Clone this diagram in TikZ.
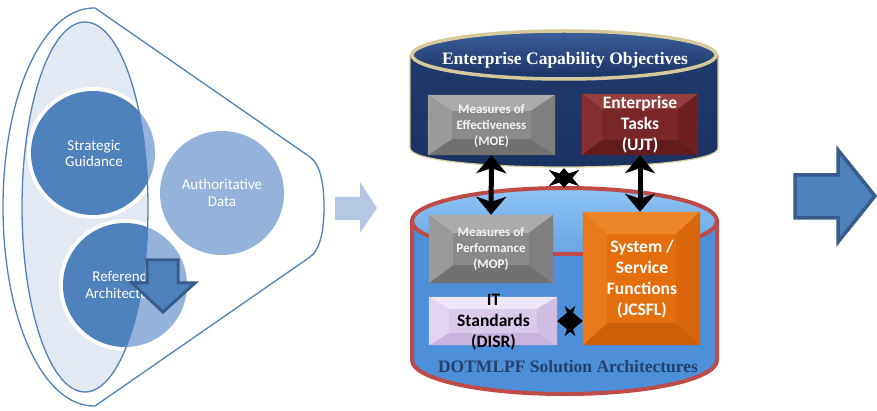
\documentclass[tikz,border=0pt]{standalone}
\usepackage{fontspec}
\setmainfont{Carlito}
\newfontfamily\titlefont{Liberation Serif}
\usetikzlibrary{arrows.meta}
\definecolor{cblue}{HTML}{4F81BD}
\definecolor{cblueD}{HTML}{385D8A}
\definecolor{clight}{HTML}{94B3DB}
\definecolor{cellfill}{HTML}{E3E9F2}
\definecolor{carrowL}{HTML}{B4C7E3}
\definecolor{navy}{HTML}{1F3B6B}
\definecolor{navyL}{HTML}{3A5F9A}
\definecolor{navyD}{HTML}{1A3262}
\definecolor{tanrim}{HTML}{D6CA9C}
\definecolor{rimred}{HTML}{BE4B48}
\definecolor{cylblue}{HTML}{4E8FDA}
\definecolor{cyltop}{HTML}{8EC4F3}
\definecolor{dotblue}{HTML}{24406E}
\definecolor{lgray}{HTML}{F4F4F4}
\definecolor{gbase}{HTML}{8A8A8A}
\definecolor{gtop}{HTML}{ABABAB}
\definecolor{gleft}{HTML}{9A9A9A}
\definecolor{gright}{HTML}{7F7F7F}
\definecolor{gbot}{HTML}{717171}
\definecolor{rbase}{HTML}{7A2626}
\definecolor{rtop}{HTML}{943E3E}
\definecolor{rleft}{HTML}{853030}
\definecolor{rright}{HTML}{6C2020}
\definecolor{rbot}{HTML}{621C1C}
\definecolor{lbase}{HTML}{DACAEC}
\definecolor{ltop}{HTML}{EEE5F7}
\definecolor{lleft}{HTML}{E3D5F1}
\definecolor{lright}{HTML}{D0BDE4}
\definecolor{lbot}{HTML}{C8B2DF}
\definecolor{obase}{HTML}{E46E0C}
\definecolor{otop}{HTML}{EE8527}
\definecolor{oleft}{HTML}{E9781A}
\definecolor{oright}{HTML}{D9660A}
\definecolor{obot}{HTML}{CD5F09}
\newcommand\mybevel[7]{%
 \fill[#4] (#1.north west) -- (#1.north east) -- ([shift={(-#2,#3)}]#1.north east) -- ([shift={(#2,#3)}]#1.north west) -- cycle;
 \fill[#7] (#1.south west) -- (#1.south east) -- ([shift={(-#2,-#3)}]#1.south east) -- ([shift={(#2,-#3)}]#1.south west) -- cycle;
 \fill[#5] (#1.north west) -- ([shift={(#2,#3)}]#1.north west) -- ([shift={(#2,-#3)}]#1.south west) -- (#1.south west) -- cycle;
 \fill[#6] (#1.north east) -- ([shift={(-#2,#3)}]#1.north east) -- ([shift={(-#2,-#3)}]#1.south east) -- (#1.south east) -- cycle;
}
\tikzset{
 lbl/.style={font=\fontsize{15}{16.5}\selectfont, text=white, align=center, inner sep=0pt},
 boxbase/.style={rectangle, inner sep=0pt, draw=none},
 moetxt/.style={font=\bfseries\fontsize{13}{16}\selectfont, text=lgray, align=center, inner sep=0pt},
 bigtxt/.style={font=\bfseries\fontsize{17.5}{21}\selectfont, align=center, inner sep=0pt},
 ttl/.style={font=\titlefont\bfseries\fontsize{17.5}{20}\selectfont, inner sep=0pt},
 dbl/.style={{Stealth[length=18pt,width=30pt,inset=5pt]}-{Stealth[length=18pt,width=30pt,inset=5pt]}, line width=5pt, black},
 bigarrow/.style={fill=cblue, draw=cblueD, line width=3pt, line join=miter},
}
\begin{document}
\begin{tikzpicture}[x=1pt,y=-1pt]
\useasboundingbox (0,0) rectangle (877,411);
\fill[white] (0,0) rectangle (877,411);

% ---------- left funnel ----------
\draw[fill=white, draw=cblue, line width=1.3pt] (95,8) -- (310,157) .. controls (321,165) and (324,186) .. (324,207) .. controls (324,228) and (321,249) .. (310,257) -- (95,406) .. controls (42,407) and (3,317) .. (3,207) .. controls (3,97) and (42,7) .. cycle;
\fill[cellfill] (85,207) ellipse [x radius=63, y radius=185];
\fill[clight] (93,153) circle [radius=62];
\fill[clight] (222,193) circle [radius=62];
\fill[clight] (125,285) circle [radius=62];
\begin{scope}
 \clip (85,207) ellipse [x radius=63, y radius=185];
 \fill[white] (93,153) circle [radius=66];
 \fill[cblue] (93,153) circle [radius=62];
 \fill[white] (125,285) circle [radius=66];
 \fill[cblue] (125,285) circle [radius=62];
\end{scope}
\draw[cblue, line width=1.3pt] (85,207) ellipse [x radius=63, y radius=185];
\node[lbl] (sg) at (94,153.5) {Strategic\\Guidance};
\node[lbl] (ad) at (222,193) {Authoritative\\Data};
\node[lbl] (ra) at (123,285) {Reference\\Architecture};
\draw[bigarrow] (147,260) -- (178,260) -- (178,283) -- (195,283) -- (163,312) -- (132,283) -- (147,283) -- cycle;

% ---------- light arrow ----------
\fill[carrowL] (335,197) -- (360,197) -- (360,182) -- (377,208) -- (360,233) -- (360,220) -- (335,220) -- cycle;

% ---------- top cylinder ----------
\path[draw=tanrim, line width=1.2pt, top color=navy, bottom color=navyD] (410,55) -- (410,148) .. controls (410,160) and (480,167) .. (564,167) .. controls (648,167) and (718,160) .. (718,148) -- (718,55) -- cycle;
\path[draw=tanrim, line width=3.5pt, top color=navyL, bottom color=navyD] (564,55) ellipse [x radius=152, y radius=24];
\node[ttl, text=white] (eco) at (565,60) {Enterprise Capability Objectives};

% ---------- bottom cylinder ----------
\path[draw=rimred, line width=4pt, fill=cylblue] (412,221) -- (412,360) .. controls (412,379) and (480,394) .. (564.5,394) .. controls (649,394) and (717,379) .. (717,360) -- (717,221) -- cycle;
\path[draw=rimred, line width=4pt, top color=cyltop, bottom color=cylblue!60!cyltop] (564.5,221) ellipse [x radius=152.5, y radius=33];
\node[ttl, text=dotblue] (dot) at (568,367) {DOTMLPF Solution Architectures};

% ---------- boxes ----------
\node[boxbase, fill=gbase, minimum width=127pt, minimum height=60pt] (moe) at (491.5,125) {};
\mybevel{moe}{24}{16}{gtop}{gleft}{gright}{gbot}
\node[moetxt] (moe-t) at (491.5,126) {Measures of\\Effectiveness\\(MOE)};

\node[boxbase, fill=rbase, minimum width=116pt, minimum height=61pt] (ujt) at (640,124.5) {};
\mybevel{ujt}{20}{15}{rtop}{rleft}{rright}{rbot}
\node[bigtxt, text=white] (ujt-t) at (640,125) {Enterprise\\Tasks\\(UJT)};

\node[boxbase, fill=gbase, minimum width=124pt, minimum height=68pt] (mop) at (491,249) {};
\mybevel{mop}{24}{18}{gtop}{gleft}{gright}{gbot}
\node[moetxt] (mop-t) at (491,249) {Measures of\\Performance\\(MOP)};

\node[boxbase, fill=lbase, minimum width=128pt, minimum height=48pt] (it) at (493,321) {};
\mybevel{it}{20}{12}{ltop}{lleft}{lright}{lbot}
\node[bigtxt, text=black] (it-t) at (493.5,322) {IT\\Standards\\(DISR)};

\node[boxbase, fill=obase, minimum width=117pt, minimum height=133pt] (sys) at (641.5,278.5) {};
\mybevel{sys}{24}{22}{otop}{oleft}{oright}{obot}
\node[bigtxt, text=white] (sys-t) at (642,279.5) {System /\\Service\\Functions\\(JCSFL)};

% ---------- connectors ----------
\draw[dbl] (moe.south) -- (mop.north);
\draw[dbl] (ujt.south) -- (ujt.south |- sys.north);
\coordinate (ecobottom) at (564,168);
\coordinate (dottop) at (564,188);
\draw[dbl] (ecobottom) -- (dottop);
\draw[dbl] (it.east) -- (it.east -| sys.west);

% ---------- right arrow ----------
\draw[bigarrow, line width=3.5pt] (795,175) -- (838,175) -- (838,150) -- (875,196) -- (838,242) -- (838,218) -- (795,218) -- cycle;
\end{tikzpicture}
\end{document}
